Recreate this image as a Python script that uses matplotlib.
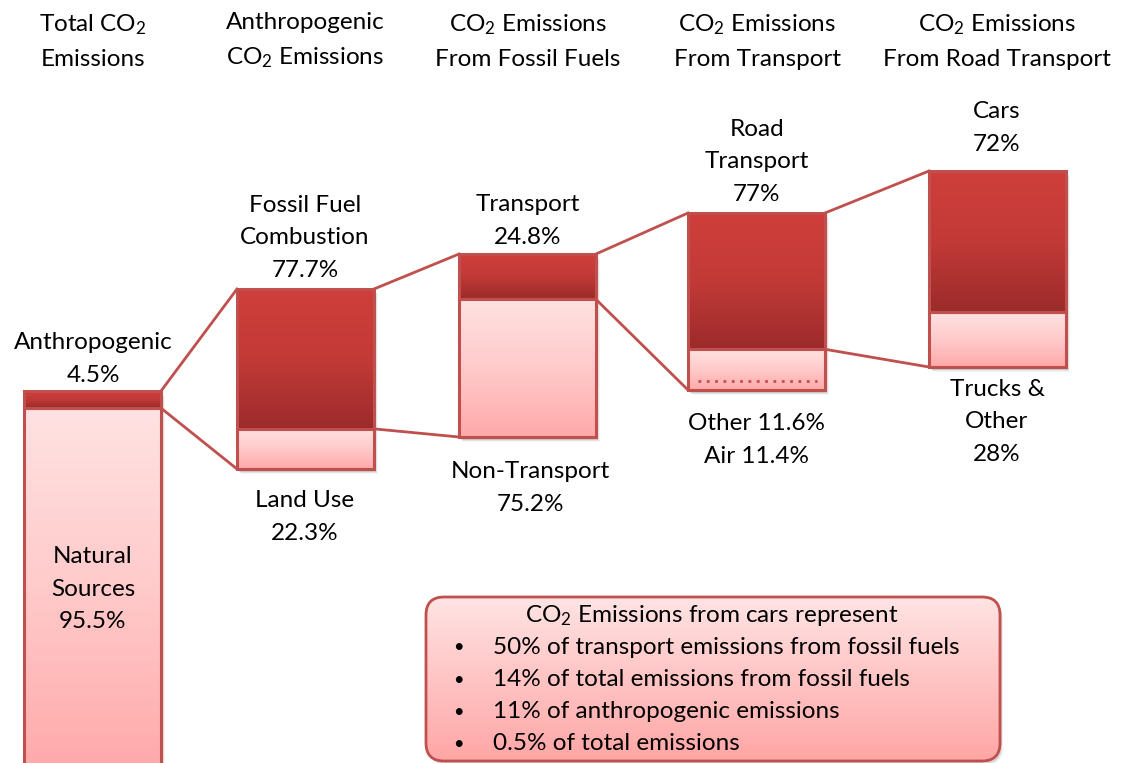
import numpy as np
import matplotlib
matplotlib.use("Agg")
import matplotlib.pyplot as plt
from matplotlib.patches import Rectangle, FancyBboxPatch
from matplotlib.colors import LinearSegmentedColormap

plt.rcParams['font.family'] = ['Lato', 'DejaVu Sans']
plt.rcParams['mathtext.fontset'] = 'custom'
plt.rcParams['mathtext.rm'] = 'Lato'
plt.rcParams['mathtext.it'] = 'Lato'

# ---------------- data ----------------
stage_headers = ["Total CO$_2$\nEmissions",
                 "Anthropogenic\nCO$_2$ Emissions",
                 "CO$_2$ Emissions\nFrom Fossil Fuels",
                 "CO$_2$ Emissions\nFrom Transport",
                 "CO$_2$ Emissions\nFrom Road Transport"]
upper_names = ["Anthropogenic", "Fossil Fuel\nCombustion", "Transport", "Road\nTransport", "Cars"]
upper_pct = [4.5, 77.7, 24.8, 77, 72]
lower_names = ["Natural\nSources", "Land Use", "Non-Transport", "Other 11.6%\nAir 11.4%", "Trucks &\nOther"]
lower_pct = [95.5, 22.3, 75.2, 23.0, 28]
box_title = "CO$_2$ Emissions from cars represent"
box_items = ["50% of transport emissions from fossil fuels",
             "14% of total emissions from fossil fuels",
             "11% of anthropogenic emissions",
             "0.5% of total emissions"]

# ---------------- layout (pixels) ----------------
W, H = 1125, 763
bar_left = [24, 237, 459, 688, 929]
bar_w = 137
bar_top = [391, 289, 254, 213, 171]
bar_h = [380, 180, 183, 177, 196]
cx = [93, 305, 528, 757, 997]
fs = 17.5
ls = 1.68
line_c = '#c0504d'

fig = plt.figure(figsize=(W / 100, H / 100), dpi=100)
ax = fig.add_axes([0, 0, 1, 1])
ax.set_xlim(0, W)
ax.set_ylim(H, 0)
ax.axis('off')

dark_cmap = LinearSegmentedColormap.from_list('d', ['#cf3f3b', '#c23a37', '#9b2b2a'])
light_cmap = LinearSegmentedColormap.from_list('l', ['#ffe2e2', '#ffcaca', '#ffa9a9'])
box_cmap = LinearSegmentedColormap.from_list('b', ['#ffe4e4', '#ffc4c4', '#ffa6a6'])
grad = np.linspace(0, 1, 256).reshape(-1, 1)


def grad_rect(x0, y0, w, h, cmap, z=2):
    ax.imshow(grad, cmap=cmap, aspect='auto', extent=(x0, x0 + w, y0 + h, y0),
              zorder=z, interpolation='bilinear')
    ax.add_patch(Rectangle((x0, y0), w, h, fill=False, ec=line_c, lw=2.2, zorder=z + 0.5))


splits = []
for i in range(5):
    x0, top, h = bar_left[i], bar_top[i], bar_h[i]
    total = upper_pct[i] + lower_pct[i]
    hu = h * upper_pct[i] / total
    hl = h - hu
    splits.append(top + hu)
    # shadow
    for k, a in enumerate([0.10, 0.07, 0.04]):
        ax.add_patch(Rectangle((x0 + 2 + k, top + 3 + k), bar_w, h, fc='black', ec='none',
                               alpha=a, zorder=1))
    grad_rect(x0, top + hu, bar_w, hl, light_cmap)
    grad_rect(x0, top, bar_w, hu, dark_cmap)

# dotted line in the transport bar (Other / Air)
ax.plot([bar_left[3] + 10, bar_left[3] + bar_w - 8], [381, 381], ls=(0, (1, 2)),
        color='#c0504d', lw=2, zorder=4)

# connectors
for i in range(4):
    xr = bar_left[i] + bar_w
    xl = bar_left[i + 1]
    ax.plot([xr, xl], [bar_top[i], bar_top[i + 1]], color=line_c, lw=2, zorder=1.5)
    ax.plot([xr, xl], [splits[i], bar_top[i + 1] + bar_h[i + 1]], color=line_c, lw=2, zorder=1.5)

# headers
for i in range(5):
    ax.text(cx[i], 41, stage_headers[i], ha='center', va='center', fontsize=fs,
            linespacing=ls)

# upper labels
upper_y = [359, 238, 221, 162, 128]
for i in range(5):
    ax.text(cx[i], upper_y[i], f"{upper_names[i]}\n{upper_pct[i]:g}%", ha='center', va='center',
            fontsize=fs, linespacing=ls)

# lower labels
lower_txt = [f"{lower_names[0]}\n{lower_pct[0]:g}%",
             f"{lower_names[1]}\n{lower_pct[1]:g}%",
             f"{lower_names[2]}\n{lower_pct[2]:g}%",
             lower_names[3],
             f"{lower_names[4]}\n{lower_pct[4]:g}%"]
lower_y = [589, 517, 488, 440, 422]
lower_x = [93, 305, 530, 757, 997]
for i in range(5):
    ax.text(lower_x[i], lower_y[i], lower_txt[i], ha='center', va='center', fontsize=fs,
            linespacing=ls, zorder=5)

# note box
bx0, by0, bw, bh = 426, 597, 574, 164
for k, a in enumerate([0.10, 0.06]):
    ax.add_patch(FancyBboxPatch((bx0 + 2 + k, by0 + 3 + k), bw, bh,
                                boxstyle='round,pad=0,rounding_size=18', fc='black', ec='none',
                                alpha=a, zorder=1))
bpatch = FancyBboxPatch((bx0, by0), bw, bh, boxstyle='round,pad=0,rounding_size=18',
                        fc='none', ec=line_c, lw=2, zorder=3)
ax.add_patch(bpatch)
im = ax.imshow(grad, cmap=box_cmap, aspect='auto', extent=(bx0, bx0 + bw, by0 + bh, by0),
               zorder=2, interpolation='bilinear')
im.set_clip_path(bpatch)

ax.text(712, 615, box_title, ha='center', va='center', fontsize=fs, zorder=5)
item_y = [647, 680, 712, 744]
for y, t in zip(item_y, box_items):
    ax.text(458, y, "\u2022", ha='center', va='center', fontsize=fs * 0.75, zorder=5)
    ax.text(493, y, t, ha='left', va='center', fontsize=fs, zorder=5)

fig.savefig('out.png', dpi=100)
